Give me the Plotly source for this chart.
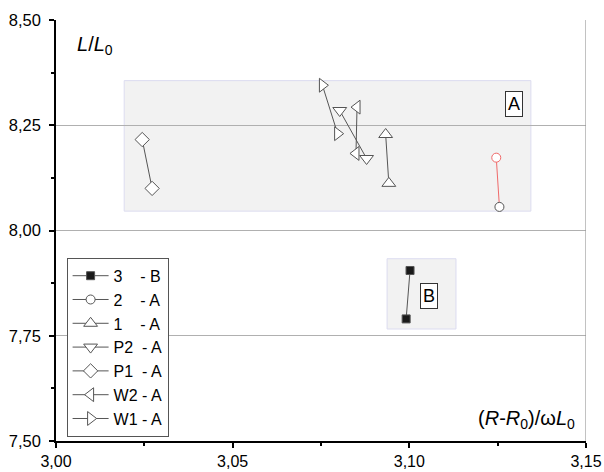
import plotly.graph_objects as go

# ---- data ----
series_names = ["3\u00a0\u00a0\u00a0\u00a0- B", "2\u00a0\u00a0\u00a0\u00a0- A", "1\u00a0\u00a0\u00a0\u00a0- A",
                "P2\u00a0\u00a0- A", "P1\u00a0\u00a0- A", "W2\u00a0- A", "W1\u00a0- A"]
x_s3 = [3.0991, 3.1002]; y_s3 = [7.790, 7.905]
x_s2 = [3.1246, 3.1255]; y_s2 = [8.173, 8.056]
x_s1 = [3.0933, 3.0942]; y_s1 = [8.228, 8.112]
x_p2 = [3.0803, 3.0879]; y_p2 = [8.285, 8.171]
x_p1 = [3.0244, 3.0272]; y_p1 = [8.216, 8.100]
x_w2 = [3.0852, 3.0849]; y_w2 = [8.293, 8.183]
x_w1 = [3.0754, 3.0797]; y_w1 = [8.345, 8.230]

regionA = dict(x0=3.0193, x1=3.1344, y0=8.046, y1=8.356)
regionB = dict(x0=3.0937, x1=3.1132, y0=7.766, y1=7.933)

x_ticks = [3.00, 3.05, 3.10, 3.15]
y_ticks = [7.50, 7.75, 8.00, 8.25, 8.50]

GRAY = "#555555"
RED = "#f06a6a"
FONT = "Liberation Sans, Arial, sans-serif"

fig = go.Figure()

def add(name, xs, ys, symbol, size, rank, fill="white", lcol=GRAY):
    fig.add_trace(go.Scatter(
        x=xs, y=ys, mode="lines+markers", name=name, legendrank=rank,
        line=dict(color=lcol, width=1),
        marker=dict(symbol=symbol, size=size, color=fill,
                    line=dict(color=GRAY, width=1))))

add(series_names[0], x_s3, y_s3, "square", 8, 1, fill="#1a1a1a", lcol=GRAY)
# series 2: red line, red upper marker
fig.add_trace(go.Scatter(
    x=x_s2, y=y_s2, mode="lines+markers", showlegend=False,
    line=dict(color=RED, width=1),
    marker=dict(symbol="circle", size=9, color="white",
                line=dict(color=[RED, GRAY], width=1))))
fig.add_trace(go.Scatter(
    x=[None], y=[None], mode="lines+markers", name=series_names[1], legendrank=2,
    line=dict(color=GRAY, width=1),
    marker=dict(symbol="circle", size=9, color="white", line=dict(color=GRAY, width=1))))
add(series_names[2], x_s1, y_s1, "triangle-up", 12, 3)
add(series_names[3], x_p2, y_p2, "triangle-down", 12, 4)
add(series_names[4], x_p1, y_p1, "diamond", 11, 5)
add(series_names[5], x_w2, y_w2, "triangle-left", 12, 6)
add(series_names[6], x_w1, y_w1, "triangle-right", 12, 7)

shapes = []
for r in (regionA, regionB):
    shapes.append(dict(type="rect", xref="x", yref="y", layer="below",
                       fillcolor="#f2f2f2", line=dict(color="#dcdcf0", width=1), **r))
shapes.append(dict(type="line", xref="x", yref="y", x0=3.15, x1=3.15, y0=7.5, y1=8.5,
                   line=dict(color="#9a9a9a", width=1.2)))

annotations = [
    dict(x=3.1295, y=8.300, xref="x", yref="y", text="A", showarrow=False,
         font=dict(family=FONT, size=18, color="black"),
         bordercolor="#333333", borderwidth=1, borderpad=2, bgcolor="white"),
    dict(x=3.1055, y=7.845, xref="x", yref="y", text="B", showarrow=False,
         font=dict(family=FONT, size=18, color="black"),
         bordercolor="#333333", borderwidth=1, borderpad=2, bgcolor="white"),
    dict(x=3.0055, y=8.44, xref="x", yref="y", xanchor="left", text="<i>L</i>/<i>L</i><sub>0</sub>",
         showarrow=False, font=dict(family=FONT, size=20, color="black")),
    dict(x=3.1475, y=7.55, xref="x", yref="y", xanchor="right",
         text="(<i>R</i>-<i>R</i><sub>0</sub>)/ω<i>L</i><sub>0</sub>",
         showarrow=False, font=dict(family=FONT, size=20, color="black")),
]

fig.update_layout(
    width=604, height=472, margin=dict(l=56, r=18, t=20, b=31),
    paper_bgcolor="white", plot_bgcolor="white",
    separators=",.",
    font=dict(family=FONT, size=16, color="black"),
    shapes=shapes, annotations=annotations,
    showlegend=True,
    legend=dict(x=0.02, y=0.01, xanchor="left", yanchor="bottom",
                bordercolor="#555555", borderwidth=1, bgcolor="white",
                font=dict(family=FONT, size=16), itemwidth=36,
                tracegroupgap=0),
)
fig.update_xaxes(range=[3.0, 3.15], tickvals=x_ticks, tickformat=".2f", automargin=False,
                 tickfont=dict(size=16),
                 showgrid=False, zeroline=False, showline=True, linecolor="black", linewidth=1.5,
                 ticks="outside", ticklen=5, tickwidth=1.5, tickcolor="black", ticklabelstandoff=0,
                 minor=dict(dtick=0.025, tick0=3.0, ticks="outside", ticklen=3, tickcolor="black", showgrid=False))
fig.update_yaxes(range=[7.5, 8.5], tickvals=y_ticks, tickformat=".2f", automargin=False,
                 tickfont=dict(size=16.5),
                 showgrid=True, gridcolor="#b0b0b0", gridwidth=1.2, zeroline=False,
                 showline=True, linecolor="black", linewidth=1.5,
                 ticks="outside", ticklen=5, tickwidth=1.5, tickcolor="black", ticklabelstandoff=5,
                 minor=dict(dtick=0.125, tick0=7.5, ticks="outside", ticklen=3, tickcolor="black", showgrid=False))

fig.write_html("out.html")
